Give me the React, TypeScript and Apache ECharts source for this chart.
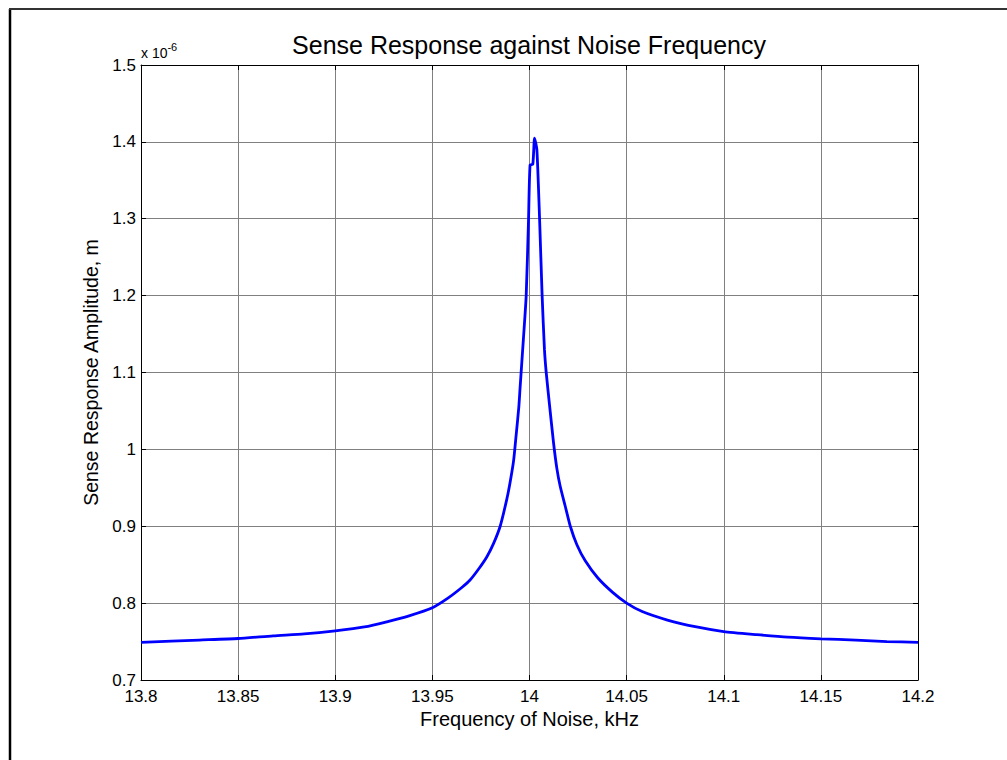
import React, { useEffect, useRef } from "react";
import * as echarts from "echarts";

const freqKHz = [
  13.8, 13.83, 13.85, 13.868, 13.884, 13.9, 13.915, 13.927, 13.938, 13.95,
  13.958, 13.965, 13.9694, 13.974, 13.978, 13.9814, 13.9849, 13.9883, 13.99,
  13.9918, 13.9931, 13.9945, 13.9952, 13.9969, 13.9983, 13.9995, 14.0003,
  14.0017, 14.0026, 14.0038, 14.0052, 14.0065, 14.0077, 14.0086, 14.0103,
  14.0124, 14.0141, 14.0158, 14.0184, 14.021, 14.0244, 14.0287, 14.0351,
  14.0428, 14.05, 14.058, 14.071, 14.086, 14.1, 14.117, 14.133, 14.15, 14.168,
  14.184, 14.2,
];

// amplitude in units of 1e-6 m
const amplitude = [
  0.749, 0.752, 0.754, 0.7575, 0.76, 0.764, 0.769, 0.776, 0.7835, 0.794,
  0.8065, 0.82, 0.83, 0.845, 0.86, 0.877, 0.9, 0.935, 0.957,
  0.985, 1.018, 1.055, 1.082, 1.145, 1.2, 1.299, 1.37,
  1.371, 1.405, 1.39, 1.299, 1.2, 1.13, 1.1, 1.058,
  1.008, 0.975, 0.952, 0.926, 0.9, 0.876, 0.855, 0.833,
  0.814, 0.8, 0.789, 0.778, 0.769, 0.763, 0.759, 0.7557, 0.7536, 0.752,
  0.75, 0.749,
];

const titleText = "Sense Response against Noise Frequency";
const xLabel = "Frequency of Noise, kHz";
const yLabel = "Sense Response Amplitude, m";

const fmt = (v: number) => String(Number(v.toFixed(3)));
const FONT = "'Liberation Sans', Arial, sans-serif";

export default function App() {
  const ref = useRef<HTMLDivElement>(null);
  useEffect(() => {
    if (!ref.current) return;
    const chart = echarts.init(ref.current, undefined, { renderer: "svg" });
    const data = freqKHz.map((f, i) => [f, amplitude[i]]);
    const xBase = {
      type: "value" as const,
      min: 13.8,
      max: 14.2,
      interval: 0.05,
      axisLine: { show: true, lineStyle: { color: "#000", width: 1 } },
      axisTick: { show: true, inside: true, length: 5, lineStyle: { color: "#000" } },
    };
    const yBase = {
      type: "value" as const,
      min: 0.7,
      max: 1.5,
      interval: 0.1,
      axisLine: { show: true, lineStyle: { color: "#000", width: 1 } },
      axisTick: { show: true, inside: true, length: 5, lineStyle: { color: "#000" } },
    };
    chart.setOption({
      animation: false,
      backgroundColor: "#fff",
      textStyle: { fontFamily: FONT },
      title: {
        text: titleText,
        left: 524,
        top: 27,
        textAlign: "center",
        textStyle: { fontFamily: FONT, fontSize: 25, fontWeight: "normal", color: "#000" },
      },
      grid: { left: 141, right: 89, top: 65, bottom: 80, containLabel: false },
      xAxis: [
        {
          ...xBase,
          position: "bottom",
          name: xLabel,
          nameLocation: "middle",
          nameGap: 22,
          nameTextStyle: { fontFamily: FONT, fontSize: 20, color: "#000", verticalAlign: "top", lineHeight: 20 },
          axisLabel: { show: true, formatter: fmt, fontFamily: FONT, fontSize: 17, color: "#000", margin: 10, lineHeight: 12 },
          splitLine: { show: true, lineStyle: { color: "#808080", width: 1 } },
        },
        {
          ...xBase,
          position: "top",
          axisLabel: { show: false },
          splitLine: { show: false },
        },
      ],
      yAxis: [
        {
          ...yBase,
          position: "left",
          name: yLabel,
          nameLocation: "middle",
          nameGap: 38,
          nameRotate: 90,
          nameTextStyle: { fontFamily: FONT, fontSize: 19.5, color: "#000" },
          axisLabel: { show: true, formatter: fmt, fontFamily: FONT, fontSize: 17, color: "#000", margin: 5, lineHeight: 12 },
          splitLine: { show: true, lineStyle: { color: "#808080", width: 1 } },
        },
        {
          ...yBase,
          position: "right",
          axisLabel: { show: false },
          splitLine: { show: false },
        },
      ],
      series: [
        {
          type: "line",
          data,
          showSymbol: false,
          smooth: 0.2,
          lineStyle: { color: "#0000ff", width: 2.8 },
          itemStyle: { color: "#0000ff" },
          xAxisIndex: 0,
          yAxisIndex: 0,
        },
      ],
      graphic: [
        {
          type: "text",
          left: 141,
          top: 41,
          style: {
            text: "x 10{sup|-6}",
            fontFamily: FONT,
            fontSize: 14,
            fill: "#000",
            rich: {
              sup: { fontSize: 11, fontFamily: FONT, fill: "#000", verticalAlign: "top", padding: [0, 0, 12, 0] },
            },
          },
        },
        {
          type: "line",
          shape: { x1: 10, y1: 9, x2: 10, y2: 760 },
          style: { stroke: "#000", lineWidth: 2.5 },
        },
        {
          type: "line",
          shape: { x1: 9, y1: 9, x2: 1007, y2: 9 },
          style: { stroke: "#333", lineWidth: 2 },
        },
      ],
    });
    return () => chart.dispose();
  }, []);
  return (
    <div
      ref={ref}
      style={{ position: "absolute", left: 0, top: 0, width: 1007, height: 760 }}
    />
  );
}
